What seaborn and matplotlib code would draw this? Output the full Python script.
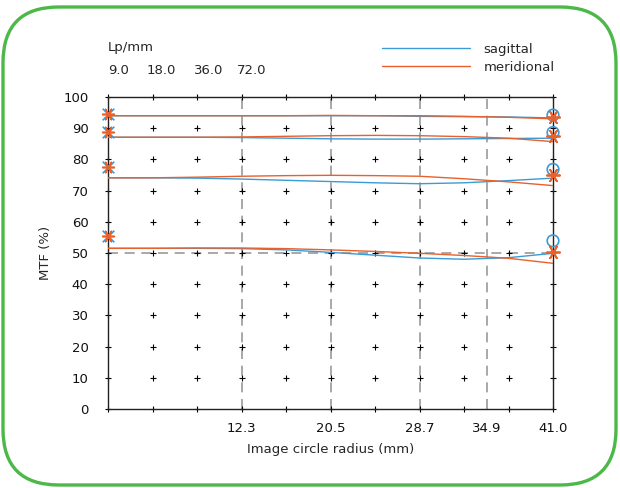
import matplotlib

matplotlib.use("Agg")
import matplotlib.pyplot as plt
import numpy as np
import pandas as pd
import seaborn as sns
from matplotlib.lines import Line2D
from matplotlib.patches import FancyBboxPatch

# image radius sample points (mm)
radius = [0.0, 4.1, 8.2, 12.3, 16.4, 20.5, 24.6, 28.7, 32.8, 36.9, 41.0]
freqs = ["9.0", "18.0", "36.0", "72.0"]

sagittal = {
    "9.0": [94.0, 94.0, 94.0, 94.0, 94.0, 94.0, 94.0, 93.8, 93.7, 93.6, 93.3],
    "18.0": [87.1, 87.1, 87.1, 87.0, 86.8, 86.6, 86.5, 86.5, 86.6, 86.7, 86.8],
    "36.0": [74.1, 74.1, 74.0, 73.7, 73.3, 72.9, 72.5, 72.2, 72.5, 73.2, 74.0],
    "72.0": [51.5, 51.5, 51.5, 51.4, 51.0, 50.2, 49.3, 48.4, 48.0, 48.5, 49.9],
}
meridional = {
    "9.0": [94.0, 94.0, 94.0, 94.0, 94.0, 94.1, 94.0, 94.0, 93.8, 93.5, 93.0],
    "18.0": [87.1, 87.1, 87.1, 87.2, 87.4, 87.6, 87.7, 87.6, 87.3, 86.8, 85.7],
    "36.0": [74.1, 74.1, 74.3, 74.6, 74.8, 74.9, 74.8, 74.6, 73.8, 72.8, 71.6],
    "72.0": [51.5, 51.5, 51.6, 51.6, 51.4, 51.0, 50.5, 49.9, 49.2, 48.3, 46.7],
}

# end point markers
left_marks = [94.4, 88.7, 77.7, 55.5]
right_sag_marks = [94.2, 88.6, 76.8, 53.9]
right_mer_marks = [93.7, 87.5, 75.0, 50.4]

xticks = [12.3, 20.5, 28.7, 34.9, 41.0]
yticks = list(range(0, 101, 10))

BLUE = "#3A9BD5"
ORANGE = "#E8602C"

rows = []
for f in freqs:
    for r, s, m in zip(radius, sagittal[f], meridional[f]):
        rows.append({"radius": r, "mtf": s, "dir": "sagittal", "freq": f})
        rows.append({"radius": r, "mtf": m, "dir": "meridional", "freq": f})
df = pd.DataFrame(rows)

sns.set_theme(style="white")
plt.rcParams["font.family"] = ["DejaVu Sans"]

fig = plt.figure(figsize=(6.2, 4.88), dpi=100)
ax = fig.add_axes([108 / 620, 1 - 409 / 488, 445 / 620, 312 / 488])

# dot grid
gx, gy = np.meshgrid(radius, yticks)
ax.scatter(gx.ravel(), gy.ravel(), marker="+", s=14, color="black", linewidths=0.8,
           zorder=2, clip_on=False)

for xv in xticks[:-1]:
    ax.axvline(xv, color="#9a9a9a", linestyle=(0, (6, 4)), linewidth=1.2, zorder=1)
ax.axhline(50, color="#9a9a9a", linestyle=(0, (6, 4)), linewidth=1.2, zorder=1)

sns.lineplot(
    data=df, x="radius", y="mtf", hue="dir", units="freq", estimator=None,
    palette={"sagittal": BLUE, "meridional": ORANGE}, linewidth=1.0,
    legend=False, ax=ax, zorder=3,
)

ax.scatter([0] * 4, left_marks, marker="x", s=70, color=BLUE, linewidths=1.2, zorder=4, clip_on=False)
ax.scatter([0] * 4, left_marks, marker=(6, 2, 90), s=70, color=ORANGE, linewidths=1.2, zorder=5,
           clip_on=False)
ax.scatter([41] * 4, right_sag_marks, marker="o", s=70, facecolors="none", edgecolors=BLUE,
           linewidths=1.2, zorder=4, clip_on=False)
ax.scatter([41] * 4, right_mer_marks, marker=(6, 2, 90), s=90, color=ORANGE, linewidths=1.3,
           zorder=5, clip_on=False)

ax.set_xlim(0, 41)
ax.set_ylim(0, 100)
ax.set_xticks(xticks)
ax.set_xticklabels([f"{v:.1f}" for v in xticks])
ax.set_yticks(yticks)
ax.tick_params(axis="both", length=0, labelsize=9.5, colors="#111111")
ax.tick_params(axis="y", pad=14)
ax.tick_params(axis="x", pad=9)
for sp in ax.spines.values():
    sp.set_color("#222222")
    sp.set_linewidth(1.0)
ax.set_xlabel("Image circle radius (mm)", fontsize=9.5, labelpad=6)
ax.set_ylabel("MTF (%)", fontsize=9.5, labelpad=8)

# frequency header
fig.text(108 / 620, 1 - 47 / 488, "Lp/mm", fontsize=9.5, va="center", ha="left")
for xp, f in zip([108, 147, 194, 237], freqs):
    fig.text(xp / 620, 1 - 70 / 488, f, fontsize=9.5, va="center", ha="left")

handles = [Line2D([], [], color=BLUE, linewidth=1.0), Line2D([], [], color=ORANGE, linewidth=1.0)]
ax.legend(handles, ["sagittal", "meridional"], loc="upper left",
          bbox_to_anchor=(382 / 620, 1 - 43 / 488), bbox_transform=fig.transFigure,
          frameon=False, fontsize=9.5, handlelength=6.7, handletextpad=1.0,
          labelspacing=0.35, borderpad=0, borderaxespad=0)

border = FancyBboxPatch((3 / 620, 3 / 488), 613 / 620, 478 / 488,
                        boxstyle="round,pad=0,rounding_size=0.09",
                        transform=fig.transFigure, facecolor="none",
                        edgecolor="#4CB848", linewidth=2.4, mutation_aspect=620 / 488)
fig.patches.append(border)

fig.savefig("out.png", dpi=100)
